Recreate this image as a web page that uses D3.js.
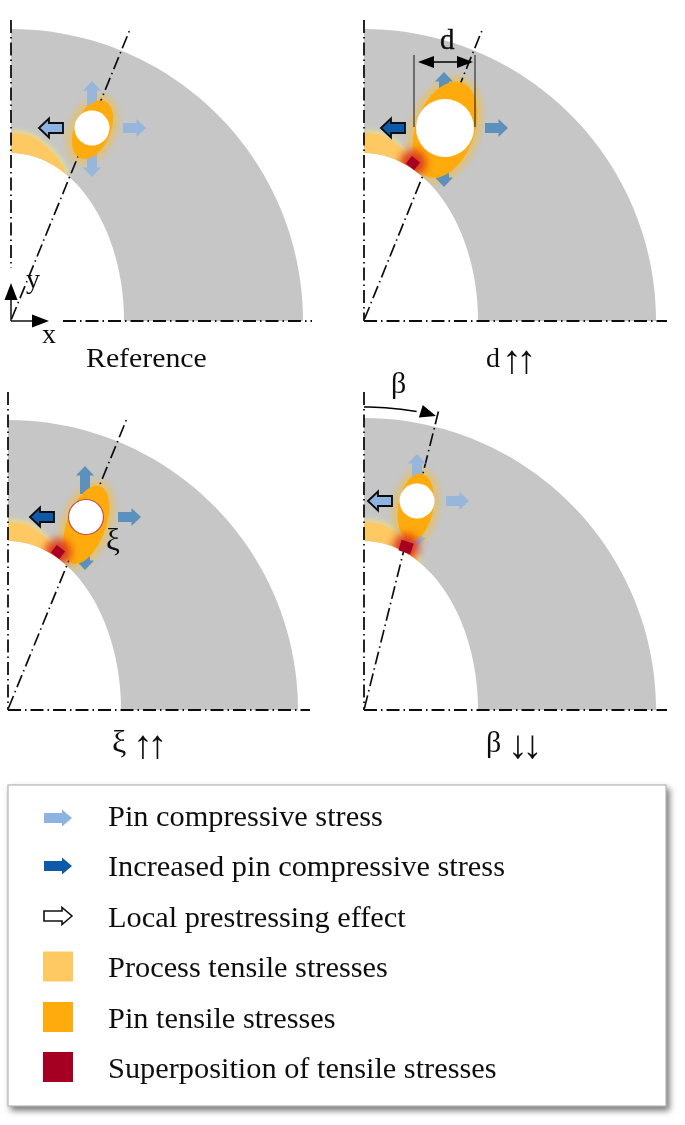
<!DOCTYPE html>
<html>
<head>
    <meta charset="utf-8">
    <script src="https://d3js.org/d3.v7.min.js"></script>
    <style>
        html, body { margin: 0; padding: 0; background: #fff; }
        svg { display: block; }
        text { font-family: 'Liberation Serif', serif; fill: #111; }
    </style>
</head>
<body>
    <script>
    // panel values (units: px from each panel's own origin, y up)
    const panelLetters = ['Reference', 'd', 'ξ', 'β'];
    const panelArrows = ['', '↑↑', '↑↑', '↓↓'];
    const outerRadius = [292, 292, 290, 292];
    const innerRx = [113, 114, 113, 114];
    const innerRy = [168, 168, 169, 169];
    const betaDeg = [22.2, 22.1, 22.2, 14];
    const lineLength = [317, 316, 317, 311];
    const pinX = [81, 81, 78, 53];
    const pinY = [193, 193, 193, 209];
    const pinDiameter = [35, 58, 35, 35];
    const lobeX = [81.5, 81, 78.3, 51.8];
    const lobeY = [191.3, 191.3, 185.3, 202.8];
    const lobeMajor = [31, 50, 41, 34];
    const lobeMinor = [18, 29.5, 19.5, 17.5];
    const lobeTilt = [23.6, 19.5, 20, 10];
    const redX = [null, 49, 50, 42];
    const redY = [null, 158, 158, 163];
    const redW = [0, 10.5, 10.5, 12.5];
    const redH = [0, 9.5, 9.5, 11];
    const redAngle = [0, 38, 38, 18];
    const leftTip = [28, 17, 22, 4];
    const rightTip = [135, 144, 133, 105];
    const upTip = [240, 249, 244, 256];
    const downTip = [144, 134, 140, 163];
    const upDownX = [81, 80, 77, 53];
    const leftKind = ['normal', 'increased', 'increased', 'normal'];
    const pinKind = ['normal', 'increased', 'increased', 'normal'];
    const processEdgeX = [0, 20, 38, 50, 55];
    const processEdgeY = [188, 185, 172, 158, 146];

    const legendLabels = ['Pin compressive stress', 'Increased pin compressive stress', 'Local prestressing effect',
        'Process tensile stresses', 'Pin tensile stresses', 'Superposition of tensile stresses'];
    const legendKinds = ['arrowLight', 'arrowDark', 'arrowOpen', 'process', 'pin', 'red'];

    // layout and style
    const width = 685, height = 1125;
    const originX = [11, 364, 8, 364], originY = [321, 321, 710, 710];
    const axisTop = [20, 20, 392, 392], axisBottom = [268, 321, 710, 710];
    const axisStart = [63, 364, 8, 364], axisEnd = [312, 667, 310, 667];
    const titleX = [86, 486, 112, 486], titleY = [367, 367, 752, 752];
    const titleSize = [28, 28, 32, 30];
    const titleArrowX = [0, 502, 133, 508], titleArrowY = [0, 373, 758, 758];
    const colors = {
        gray: '#c6c6c6', process: '#fec963', pin: '#ffab0a', red: '#a50021',
        light: '#8db3e2', dark: '#0b5aa8', normal: '#97b6da', increased: '#5c90bd'
    };
    const stretch = 1.065;
    const dash = '13 4 1.5 4';

    const svg = d3.select('body').append('svg')
        .attr('width', width).attr('height', height);

    const defs = svg.append('defs');
    [['soft', 0.55], ['blur3', 2.6], ['blur5', 4.5]].forEach(([id, s]) => {
        defs.append('filter').attr('id', id)
            .attr('x', '-50%').attr('y', '-50%').attr('width', '200%').attr('height', '200%')
            .append('feGaussianBlur').attr('stdDeviation', s);
    });
    const shadow = defs.append('filter').attr('id', 'shadow')
        .attr('x', '-5%').attr('y', '-5%').attr('width', '110%').attr('height', '110%');
    shadow.append('feDropShadow').attr('dx', 3).attr('dy', 4).attr('stdDeviation', 3)
        .attr('flood-color', '#777');

    const root = svg.append('g').attr('filter', 'url(#soft)');

    const line = d3.line();
    const smooth = d3.line().curve(d3.curveCardinal);

    // arrow polygon from tip, pointing along (ux,uy)
    function arrowPath(tx, ty, ux, uy, len = 23, shaft = 5, head = 9, headLen = 9.5) {
        const px = -uy, py = ux;
        const at = (a, b) => [tx - ux * a + px * b, ty - uy * a + py * b];
        return line([at(0, 0), at(headLen, head), at(headLen, shaft), at(len, shaft),
            at(len, -shaft), at(headLen, -shaft), at(headLen, -head)]) + 'Z';
    }

    function drawPanel(i) {
        const x = d3.scaleLinear().domain([0, 300]).range([originX[i], originX[i] + 300]);
        const y = d3.scaleLinear().domain([0, 300]).range([originY[i], originY[i] - 300]);
        const g = root.append('g');
        const quarter = d3.range(0, 91, 2).map(a => a * Math.PI / 180);

        // annulus quarter: circular outside, elliptical inside
        const ringPoints = quarter.map(a => [x(outerRadius[i] * Math.sin(a)), y(outerRadius[i] * Math.cos(a))])
            .concat(quarter.slice().reverse().map(a => [x(innerRx[i] * Math.sin(a)), y(innerRy[i] * Math.cos(a))]));
        const ring = line(ringPoints) + 'Z';
        defs.append('clipPath').attr('id', `ring${i}`).append('path').attr('d', ring);

        g.append('path').attr('d', ring).attr('fill', colors.gray);

        // process tensile band, clipped to the ring
        const edge = processEdgeX.map((v, k) => [x(v), y(processEdgeY[k])]);
        const clipped = g.append('g').attr('clip-path', `url(#ring${i})`);
        clipped.append('path').attr('d', smooth(edge)).attr('fill', 'none')
            .attr('stroke', '#e8dc90').attr('stroke-width', 6).attr('filter', 'url(#blur3)');
        clipped.append('path')
            .attr('d', smooth(edge) + `L${x(processEdgeX[4])},${y(0)}L${x(0)},${y(0)}Z`)
            .attr('fill', colors.process);

        // centre line, axes
        const b = betaDeg[i] * Math.PI / 180;
        g.append('path')
            .attr('d', line([[x(0.5), y(2)], [x(lineLength[i] * Math.sin(b)), y(lineLength[i] * Math.cos(b))]]))
            .attr('fill', 'none').attr('stroke', '#111').attr('stroke-width', 1.7).attr('stroke-dasharray', dash);
        g.append('line').attr('x1', x(0)).attr('x2', x(0)).attr('y1', axisTop[i]).attr('y2', axisBottom[i])
            .attr('stroke', '#111').attr('stroke-width', 1.8).attr('stroke-dasharray', dash);
        g.append('line').attr('x1', axisStart[i]).attr('x2', axisEnd[i]).attr('y1', y(0)).attr('y2', y(0))
            .attr('stroke', '#111').attr('stroke-width', 1.8).attr('stroke-dasharray', dash);

        // compressive arrows
        const pinPx = x(pinX[i]), pinPy = y(pinY[i]);
        const kindColor = colors[pinKind[i]];
        g.append('path').attr('d', arrowPath(x(rightTip[i]), pinPy, 1, 0)).attr('fill', kindColor);
        g.append('path').attr('d', arrowPath(x(upDownX[i]), y(upTip[i]), 0, -1, 28)).attr('fill', kindColor);
        g.append('path').attr('d', arrowPath(x(upDownX[i]), y(downTip[i]), 0, 1, 28)).attr('fill', kindColor);
        g.append('path').attr('d', arrowPath(x(leftTip[i]), pinPy, -1, 0, 24, 5, 9.5, 10))
            .attr('fill', leftKind[i] === 'normal' ? colors.light : colors.dark)
            .attr('stroke', '#111').attr('stroke-width', 1.9);

        // pin tensile lobe with its halo
        const rot = `rotate(${lobeTilt[i]},${x(lobeX[i])},${y(lobeY[i])})`;
        const lobe = (sel, grow) => sel.append('ellipse')
            .attr('cx', x(lobeX[i])).attr('cy', y(lobeY[i]))
            .attr('rx', lobeMinor[i] + grow).attr('ry', lobeMajor[i] + grow)
            .attr('transform', rot);
        lobe(clipped, 6).attr('fill', '#e8c060').attr('opacity', 0.7).attr('filter', 'url(#blur3)');
        lobe(g, 0).attr('fill', colors.pin);

        // superposition square
        if (redX[i] !== null) {
            const rx = x(redX[i]), ry = y(redY[i]);
            g.append('g').attr('clip-path', `url(#ring${i})`)
                .append('circle').attr('cx', rx).attr('cy', ry).attr('r', 13)
                .attr('fill', '#dc3a1a').attr('filter', 'url(#blur5)');
            g.append('rect').attr('x', rx - redW[i] / 2).attr('y', ry - redH[i] / 2)
                .attr('width', redW[i]).attr('height', redH[i])
                .attr('transform', `rotate(${redAngle[i]},${rx},${ry})`)
                .attr('fill', colors.red);
        }

        // pin hole
        g.append('circle').attr('cx', pinPx).attr('cy', pinPy).attr('r', pinDiameter[i] / 2)
            .attr('fill', '#fff')
            .attr('stroke', i === 2 ? '#c0504d' : 'none').attr('stroke-width', 1.2);

        // panel caption
        g.append('text').attr('transform', `translate(${titleX[i]},${titleY[i]}) scale(${i === 0 ? stretch : 1},1)`)
            .attr('font-size', titleSize[i]).text(panelLetters[i]);
        if (panelArrows[i]) {
            g.append('text').attr('x', titleArrowX[i]).attr('y', titleArrowY[i])
                .attr('font-size', 40).attr('letter-spacing', -5.5).text(panelArrows[i]);
        }
        return {g, x, y};
    }

    const panels = panelLetters.map((_, i) => drawPanel(i));

    // coordinate system in the reference panel
    const p0 = panels[0];
    const arrowHead = (tx, ty, ux, uy) => arrowPath(tx, ty, ux, uy, 17, 0, 6.5, 17);
    p0.g.append('path').attr('d', line([[p0.x(0), p0.y(0)], [p0.x(25), p0.y(0)]]) + line([[p0.x(0), p0.y(0)], [p0.x(0), p0.y(25)]]))
        .attr('stroke', '#111').attr('stroke-width', 1.5).attr('fill', 'none');
    p0.g.append('path').attr('d', arrowHead(p0.x(38), p0.y(0), 1, 0)).attr('fill', '#000');
    p0.g.append('path').attr('d', arrowHead(p0.x(0), p0.y(38), 0, -1)).attr('fill', '#000');
    p0.g.append('text').attr('x', 42).attr('y', 343).attr('font-size', 28).text('x');
    p0.g.append('text').attr('x', 26).attr('y', 288).attr('font-size', 28).text('y');

    // diameter dimension
    const p1 = panels[1];
    p1.g.selectAll('.dimLine').data([50, 111]).join('line')
        .attr('x1', d => p1.x(d)).attr('x2', d => p1.x(d))
        .attr('y1', p1.y(266)).attr('y2', p1.y(194))
        .attr('stroke', '#333').attr('stroke-width', 1.2);
    p1.g.append('line').attr('x1', p1.x(60)).attr('x2', p1.x(100)).attr('y1', p1.y(259)).attr('y2', p1.y(259))
        .attr('stroke', '#000').attr('stroke-width', 1.5);
    p1.g.append('path').attr('d', arrowPath(p1.x(54), p1.y(259), -1, 0, 16, 0, 6, 16)).attr('fill', '#000');
    p1.g.append('path').attr('d', arrowPath(p1.x(109), p1.y(259), 1, 0, 16, 0, 6, 16)).attr('fill', '#000');
    p1.g.append('text').attr('x', 440).attr('y', 49).attr('font-size', 29)
        .attr('stroke', '#111').attr('stroke-width', 0.4).text('d');

    // ξ label
    panels[2].g.append('text').attr('x', 106).attr('y', 550).attr('font-size', 31).text('ξ');

    // β angle arc
    const p3 = panels[3];
    const arcR = 303;
    const arcPts = d3.range(0, 11, 1).map(a => a * Math.PI / 180)
        .map(a => [p3.x(arcR * Math.sin(a)), p3.y(arcR * Math.cos(a))]);
    p3.g.append('path').attr('d', line(arcPts)).attr('fill', 'none').attr('stroke', '#000').attr('stroke-width', 1.5);
    p3.g.append('path').attr('d', arrowPath(p3.x(72), p3.y(294), 0.95, 0.3, 16, 0, 6.5, 16)).attr('fill', '#000');
    p3.g.append('text').attr('x', 391).attr('y', 393).attr('font-size', 30).text('β');

    // legend
    const legend = root.append('g');
    legend.append('rect').attr('x', 8).attr('y', 785).attr('width', 658).attr('height', 321)
        .attr('fill', '#fff').attr('stroke', '#b4b4b4').attr('stroke-width', 1.2).attr('filter', 'url(#shadow)');
    const rowY = d3.scalePoint().domain(d3.range(legendLabels.length)).range([826, 1078]);
    const swatchY = [818, 866, 916, 966.5, 1017, 1067];
    legendLabels.forEach((label, i) => {
        legend.append('text').attr('transform', `translate(108,${rowY(i)}) scale(${stretch},1)`)
            .attr('font-size', 28.5).text(label);
        const kind = legendKinds[i];
        if (kind.startsWith('arrow')) {
            legend.append('path').attr('d', arrowPath(72, swatchY[i], 1, 0, 28, 5, 8.5, 10))
                .attr('fill', kind === 'arrowLight' ? colors.light : kind === 'arrowDark' ? colors.dark : '#fff')
                .attr('stroke', kind === 'arrowOpen' ? '#111' : 'none').attr('stroke-width', 1.6);
        } else {
            legend.append('rect').attr('x', 43).attr('y', swatchY[i] - 15).attr('width', 30).attr('height', 30)
                .attr('fill', colors[kind]);
        }
    });
    </script>
</body>
</html>
